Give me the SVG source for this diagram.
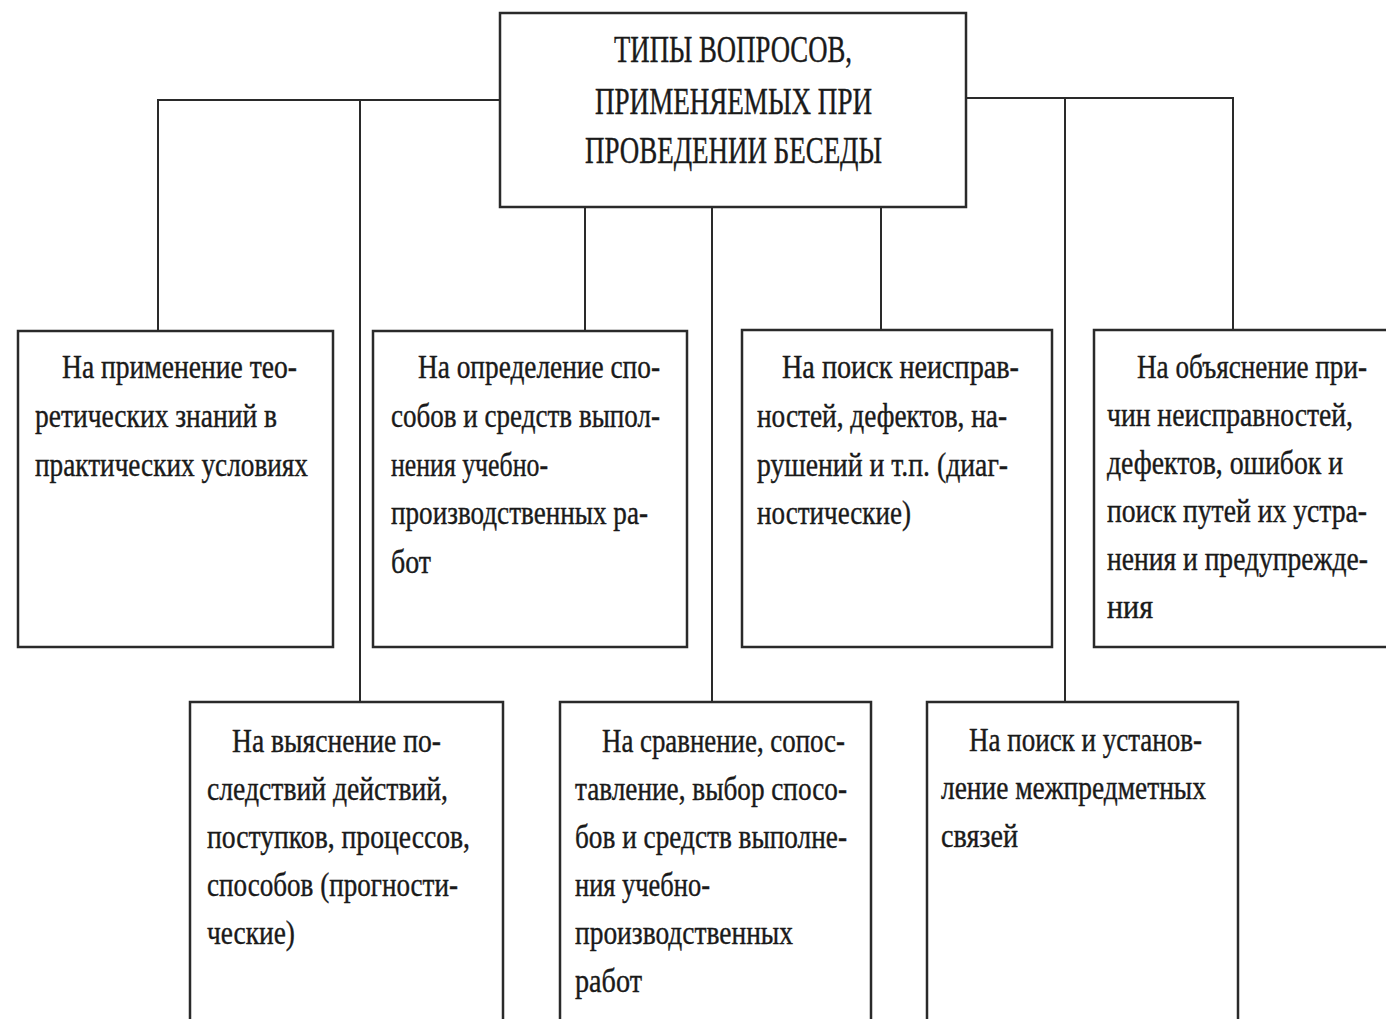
<svg xmlns="http://www.w3.org/2000/svg" width="1386" height="1019" viewBox="0 0 1386 1019">
<style>
.box{fill:#fff;stroke:#2a2a2a;stroke-width:2.5}
.con{fill:none;stroke:#2a2a2a;stroke-width:2}
.t{font-family:"Liberation Serif","Times New Roman",serif;font-size:34px;fill:#1a1a1a;stroke:#1a1a1a;stroke-width:0.4}
.h{font-family:"Liberation Serif","Times New Roman",serif;font-size:37px;fill:#1a1a1a;stroke:#1a1a1a;stroke-width:0.4}
</style>
<rect width="1386" height="1019" fill="#fff"/>
<g id="connectors">
<polyline class="con" points="500,100 158,100 158,331"/>
<line class="con" x1="360" y1="100" x2="360" y2="702"/>
<polyline class="con" points="966,98 1233,98 1233,330"/>
<line class="con" x1="1065" y1="98" x2="1065" y2="702"/>
<line class="con" x1="585" y1="207" x2="585" y2="331"/>
<line class="con" x1="712" y1="207" x2="712" y2="702"/>
<line class="con" x1="881" y1="207" x2="881" y2="330"/>
</g>
<g id="root">
<rect class="box" x="500" y="13" width="466" height="194"/>
<g transform="scale(0.75,1)">
<text class="h" x="818.67" y="62" textLength="317.33" lengthAdjust="spacingAndGlyphs">ТИПЫ ВОПРОСОВ,</text>
<text class="h" x="793.33" y="114" textLength="369.33" lengthAdjust="spacingAndGlyphs">ПРИМЕНЯЕМЫХ ПРИ</text>
<text class="h" x="780" y="163" textLength="396" lengthAdjust="spacingAndGlyphs">ПРОВЕДЕНИИ БЕСЕДЫ</text>
</g>
</g>
<g id="n1">
<rect class="box" x="18" y="331" width="315" height="316"/>
<g transform="scale(0.8,1)">
<text class="t" x="77.5" y="378" textLength="293.75" lengthAdjust="spacingAndGlyphs">На применение тео-</text>
<text class="t" x="43.75" y="427" textLength="302.5" lengthAdjust="spacingAndGlyphs">ретических знаний в</text>
<text class="t" x="43.75" y="476" textLength="341.25" lengthAdjust="spacingAndGlyphs">практических условиях</text>
</g>
</g>
<g id="n2">
<rect class="box" x="373" y="331" width="314" height="316"/>
<g transform="scale(0.8,1)">
<text class="t" x="522.5" y="378" textLength="302.5" lengthAdjust="spacingAndGlyphs">На определение спо-</text>
<text class="t" x="488.75" y="427" textLength="336.25" lengthAdjust="spacingAndGlyphs">собов и средств выпол-</text>
<text class="t" x="488.75" y="476" textLength="196.25" lengthAdjust="spacingAndGlyphs">нения учебно-</text>
<text class="t" x="488.75" y="524" textLength="321.25" lengthAdjust="spacingAndGlyphs">производственных ра-</text>
<text class="t" x="488.75" y="573" textLength="50" lengthAdjust="spacingAndGlyphs">бот</text>
</g>
</g>
<g id="n3">
<rect class="box" x="742" y="330" width="310" height="317"/>
<g transform="scale(0.8,1)">
<text class="t" x="977.5" y="378" textLength="296.25" lengthAdjust="spacingAndGlyphs">На поиск неисправ-</text>
<text class="t" x="946.25" y="427" textLength="312.5" lengthAdjust="spacingAndGlyphs">ностей, дефектов, на-</text>
<text class="t" x="946.25" y="476" textLength="313.75" lengthAdjust="spacingAndGlyphs">рушений и т.п. (диаг-</text>
<text class="t" x="946.25" y="524" textLength="192.5" lengthAdjust="spacingAndGlyphs">ностические)</text>
</g>
</g>
<g id="n4">
<rect class="box" x="1094" y="330" width="310" height="317"/>
<g transform="scale(0.8,1)">
<text class="t" x="1421.25" y="378" textLength="287.5" lengthAdjust="spacingAndGlyphs">На объяснение при-</text>
<text class="t" x="1383.75" y="426" textLength="307.5" lengthAdjust="spacingAndGlyphs">чин неисправностей,</text>
<text class="t" x="1383.75" y="474" textLength="295" lengthAdjust="spacingAndGlyphs">дефектов, ошибок и</text>
<text class="t" x="1383.75" y="522" textLength="325" lengthAdjust="spacingAndGlyphs">поиск путей их устра-</text>
<text class="t" x="1383.75" y="570" textLength="326.25" lengthAdjust="spacingAndGlyphs">нения и предупрежде-</text>
<text class="t" x="1383.75" y="618" textLength="57.5" lengthAdjust="spacingAndGlyphs">ния</text>
</g>
</g>
<g id="n5">
<rect class="box" x="190" y="702" width="313" height="330"/>
<g transform="scale(0.8,1)">
<text class="t" x="290" y="752" textLength="261.25" lengthAdjust="spacingAndGlyphs">На выяснение по-</text>
<text class="t" x="258.75" y="800" textLength="301.25" lengthAdjust="spacingAndGlyphs">следствий действий,</text>
<text class="t" x="258.75" y="848" textLength="328.75" lengthAdjust="spacingAndGlyphs">поступков, процессов,</text>
<text class="t" x="258.75" y="896" textLength="313.75" lengthAdjust="spacingAndGlyphs">способов (прогности-</text>
<text class="t" x="258.75" y="944" textLength="110" lengthAdjust="spacingAndGlyphs">ческие)</text>
</g>
</g>
<g id="n6">
<rect class="box" x="560" y="702" width="311" height="330"/>
<g transform="scale(0.8,1)">
<text class="t" x="752.5" y="752" textLength="303.75" lengthAdjust="spacingAndGlyphs">На сравнение, сопос-</text>
<text class="t" x="718.75" y="800" textLength="340" lengthAdjust="spacingAndGlyphs">тавление, выбор спосо-</text>
<text class="t" x="718.75" y="848" textLength="340" lengthAdjust="spacingAndGlyphs">бов и средств выполне-</text>
<text class="t" x="718.75" y="896" textLength="168.75" lengthAdjust="spacingAndGlyphs">ния учебно-</text>
<text class="t" x="718.75" y="944" textLength="272.5" lengthAdjust="spacingAndGlyphs">производственных</text>
<text class="t" x="718.75" y="992" textLength="83.75" lengthAdjust="spacingAndGlyphs">работ</text>
</g>
</g>
<g id="n7">
<rect class="box" x="927" y="702" width="311" height="330"/>
<g transform="scale(0.8,1)">
<text class="t" x="1211.25" y="751" textLength="291.25" lengthAdjust="spacingAndGlyphs">На поиск и установ-</text>
<text class="t" x="1176.25" y="799" textLength="331.25" lengthAdjust="spacingAndGlyphs">ление межпредметных</text>
<text class="t" x="1176.25" y="847" textLength="96.25" lengthAdjust="spacingAndGlyphs">связей</text>
</g>
</g>
</svg>
